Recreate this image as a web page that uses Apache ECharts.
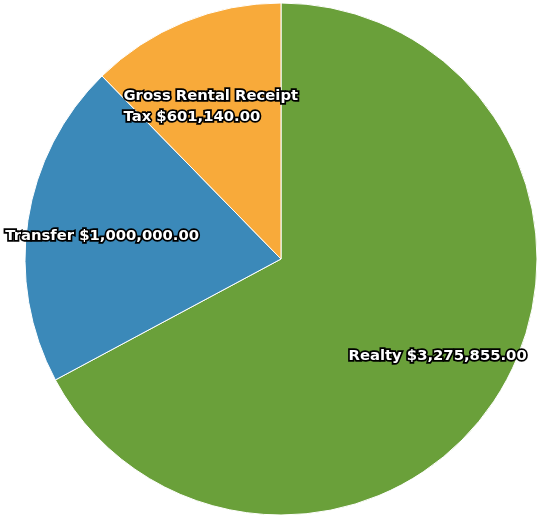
<!DOCTYPE html>
<html>
<head>
    <meta charset="utf-8">
    <title></title>
    <style type="text/css">
        html, body { margin: 0; padding: 0; background: #fff; }
    </style>
</head>
<body>
<div id="main" style="width: 537px;height:516px;"></div>

<script type="text/javascript" src="https://cdn.jsdelivr.net/npm/echarts@6/dist/echarts.min.js"></script>
<script type="text/javascript">
    var categories = ['Realty', 'Transfer', 'Gross Rental Receipt Tax'];
    var values = [3275855, 1000000, 601140];
    var colorList = ['#6aa03a', '#3b89b9', '#f8aa3a'];
    // small nudges of each label from its slice anchor
    var labelOffsets = [[-3, 2], [5, 5], [0, 20]];

    function money(v) {
        return '$' + v.toLocaleString('en-US', {minimumFractionDigits: 2, maximumFractionDigits: 2});
    }

    var pieData = categories.map(function (name, i) {
        return { name: name, value: values[i], itemStyle: { color: colorList[i] } };
    });

    var textStyle = {
        color: '#fff',
        fontFamily: 'DejaVu Sans',
        fontWeight: 'bold',
        fontSize: 14.8,
        lineHeight: 21,
        textBorderColor: '#000',
        textBorderWidth: 3.5
    };

    var myChart = echarts.init(document.getElementById('main'));
    myChart.setOption({
        animation: false,
        series: [{
            // the visible slices
            type: 'pie',
            center: [281, 259],
            radius: [0, 256],
            startAngle: 90,
            clockwise: true,
            silent: true,
            itemStyle: { borderColor: '#fff', borderWidth: 1 },
            label: { show: false },
            labelLine: { show: false },
            data: pieData
        }, {
            // transparent ring, only used to place the labels further out
            type: 'pie',
            center: [281, 259],
            radius: [110, 256],
            startAngle: 90,
            clockwise: true,
            silent: true,
            itemStyle: { color: 'transparent' },
            label: Object.assign({
                show: true,
                position: 'inside',
                formatter: function (p) {
                    if (p.name === 'Gross Rental Receipt Tax') {
                        return '{a|Gross Rental Receipt}\n{a|Tax ' + money(p.value) + '}';
                    }
                    return p.name + ' ' + money(p.value);
                },
                rich: {
                    a: Object.assign({ align: 'left' }, textStyle)
                }
            }, textStyle),
            labelLine: { show: false },
            data: categories.map(function (name, i) {
                return { name: name, value: values[i], label: { offset: labelOffsets[i] } };
            })
        }]
    });
</script>

</body>
</html>
